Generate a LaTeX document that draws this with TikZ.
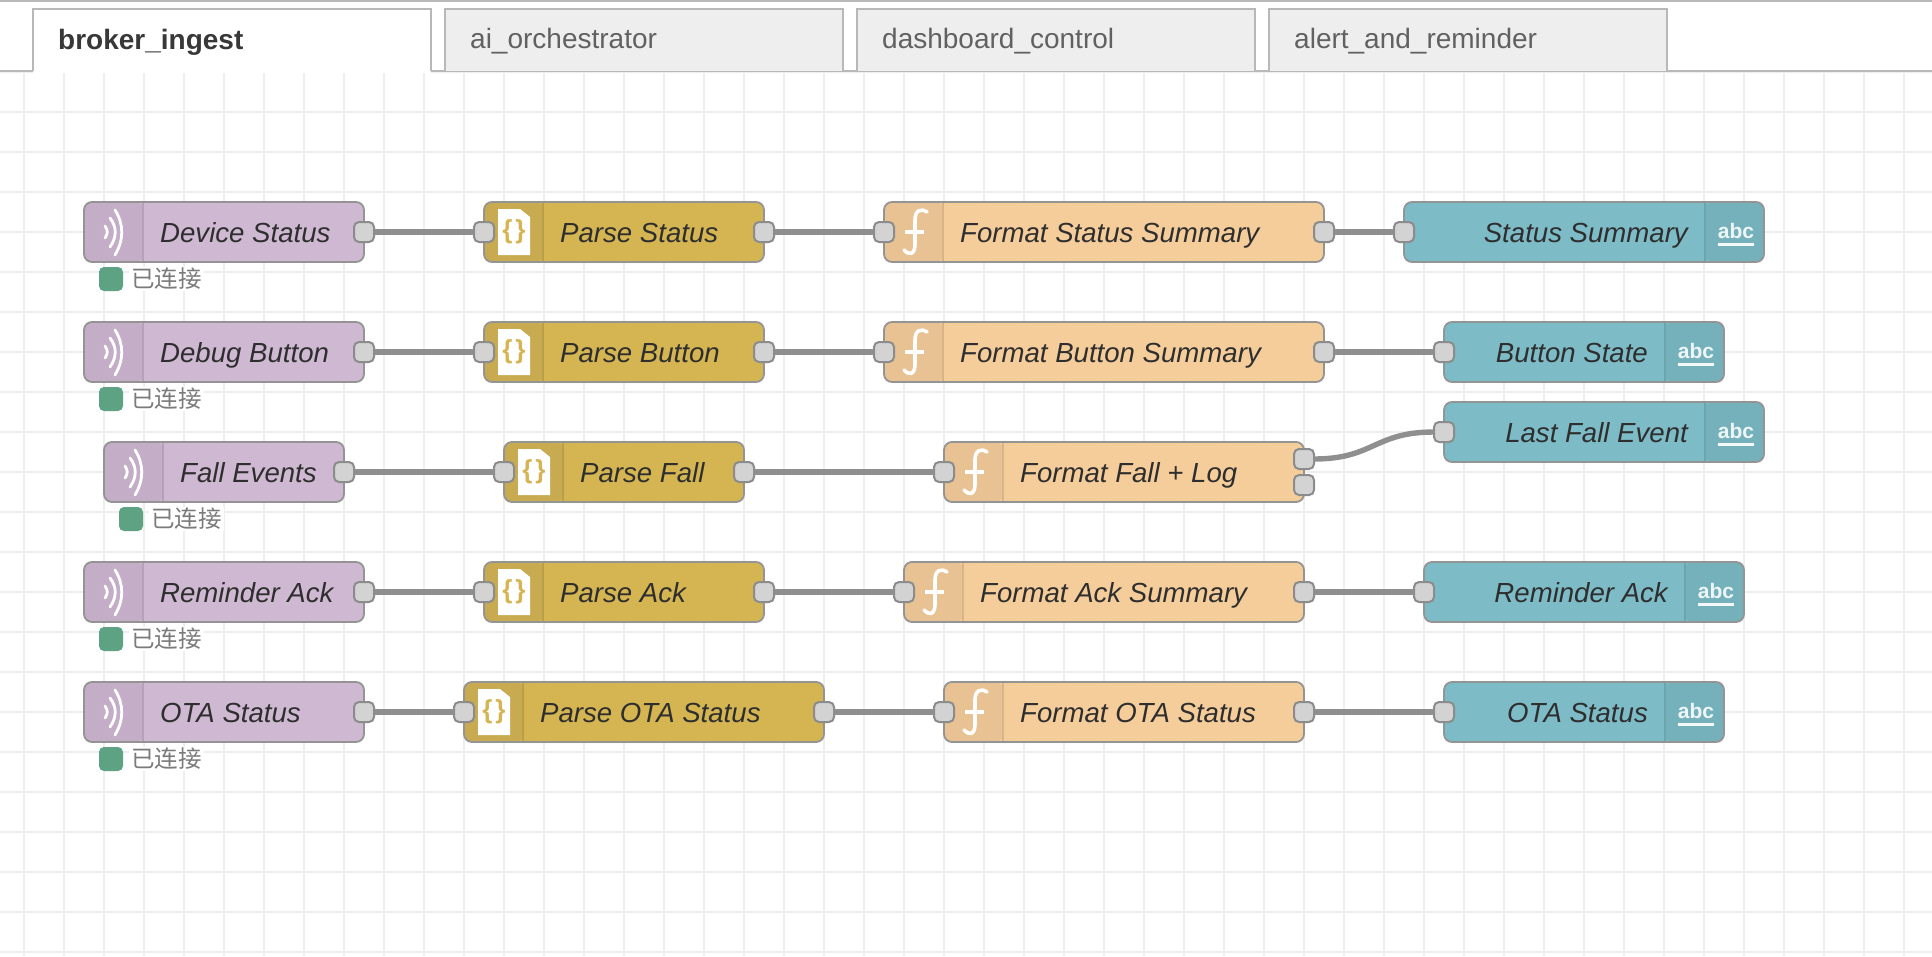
\documentclass[tikz,border=0pt]{standalone}
\usepackage{fontspec}
\setmainfont{Liberation Sans}
\newfontfamily\cjkfont{Noto Sans CJK SC}
\definecolor{gridc}{HTML}{EEEEEE}
\definecolor{tabline}{HTML}{B8B8B8}
\definecolor{tabfill}{HTML}{EEEEEE}
\definecolor{edge}{HTML}{949494}
\definecolor{wirec}{HTML}{8F8F8F}
\definecolor{portfill}{HTML}{D3D3D3}
\definecolor{portedge}{HTML}{8C8C8C}
\definecolor{mq}{HTML}{CFB8D1}
\definecolor{mqd}{HTML}{C4ADC6}
\definecolor{js}{HTML}{D4B552}
\definecolor{jsd}{HTML}{C8AB50}
\definecolor{fn}{HTML}{F5CD9B}
\definecolor{fnd}{HTML}{E8C292}
\definecolor{tx}{HTML}{7DBBC6}
\definecolor{txd}{HTML}{74B1BB}
\definecolor{stgreen}{HTML}{5CA283}
\tikzset{
  x=1pt,y=-1pt,
  nodebody/.style={draw=edge,line width=1.8pt,rounded corners=8pt,minimum height=60pt,inner sep=0pt,outer sep=0pt},
  leftpanel/.style={path picture={
     \fill[#1] (path picture bounding box.north west) rectangle ++(59,60);
     \draw[#1!93!black,line width=1.2pt] ([xshift=59pt]path picture bounding box.north west) -- ++(0,60);}},
  rightpanel/.style={path picture={
     \fill[#1] (path picture bounding box.north east) rectangle ++(-59,60);
     \draw[#1!93!black,line width=1.2pt] ([xshift=-59pt]path picture bounding box.north east) -- ++(0,60);}},
  nodelabel/.style={inner sep=0pt,font=\fontsize{27.6}{30}\selectfont\itshape,text=black!82},
  portbox/.style={draw=portedge,fill=portfill,line width=2pt,rounded corners=5pt,minimum size=20pt,inner sep=0pt,outer sep=0pt},
  wire/.style={draw=wirec,line width=5.4pt},
  tabtext/.style={inner sep=0pt,anchor=base west,font=\fontsize{28}{30}\selectfont,text=black!62},
  activetext/.style={inner sep=0pt,anchor=base west,font=\fontsize{28}{30}\selectfont\bfseries,text=black!78},
  tabedge/.style={draw=tabline,line width=2pt},
  statussq/.style={fill=stgreen,rounded corners=5pt,minimum size=24pt,inner sep=0pt,outer sep=0pt},
  statustext/.style={fill=white,inner xsep=2pt,inner ysep=1pt,anchor=west,font=\cjkfont\fontsize{23.5}{26}\selectfont,text=black!52},
  iconline/.style={draw=white,line width=2.8pt,line cap=round},
  fline/.style={draw=white,line width=3.6pt,line cap=round},
  mqtticon/.pic={
    \draw[iconline] (31,-22) .. controls (40,-8) and (40,8) .. (31,23);
    \draw[iconline] (26,-14) .. controls (33,-5) and (33,5) .. (26,15);
    \draw[iconline] (21,-6) .. controls (24,-2) and (24,2) .. (21,6);
  },
  jsonicon/.pic={
    \fill[white] (14,-23) -- (36,-23) -- (46,-15) -- (46,23) -- (14,23) -- cycle;
    \node[inner sep=0pt,text=js,font=\fontsize{26}{28}\selectfont\bfseries] at (30,0) {\{\kern3pt\}};
  },
  funcicon/.pic={
    \draw[fline] (43,-20) .. controls (37,-24) and (31,-22) .. (31,-12) -- (31,12) .. controls (31,24) and (24,23) .. (20,18);
    \draw[fline,line cap=butt] (21,0) -- (40,0);
  },
  abcicon/.pic={
    \node[inner sep=0pt,anchor=base,text=white,text opacity=.88,font=\fontsize{21}{23}\selectfont\bfseries] at (-28,6) {abc};
    \fill[white,opacity=.92] (-46,11) rectangle (-10,14);
  },
}
\newcommand{\portat}[3]{\node[portbox] (#1) at (#2,#3) {};}
% name, left, right, centre y, label
\newcommand{\mqttnode}[5]{%
  \node[nodebody,fill=mq,leftpanel=mqd,minimum width={(#3-#2)*1pt}] (#1) at ({(#2+#3)/2},#4) {};
  \pic at (#2,#4) {mqtticon};
  \node[nodelabel,anchor=base west] (#1-label) at (#2+76,#4+10) {#5};
  \portat{#1-out}{#3}{#4}
  \node[statussq] (#1-dot) at (#2+27,#4+47) {};
  \node[statustext] (#1-state) at (#2+45,#4+47) {已连接};
}
\newcommand{\jsonnode}[5]{%
  \node[nodebody,fill=js,leftpanel=jsd,minimum width={(#3-#2)*1pt}] (#1) at ({(#2+#3)/2},#4) {};
  \pic at (#2,#4) {jsonicon};
  \node[nodelabel,anchor=base west] (#1-label) at (#2+76,#4+10) {#5};
  \portat{#1-in}{#2}{#4}
  \portat{#1-out}{#3}{#4}
}
\newcommand{\funcbody}[5]{%
  \node[nodebody,fill=fn,leftpanel=fnd,minimum width={(#3-#2)*1pt}] (#1) at ({(#2+#3)/2},#4) {};
  \pic at (#2,#4) {funcicon};
  \node[nodelabel,anchor=base west] (#1-label) at (#2+76,#4+10) {#5};
  \portat{#1-in}{#2}{#4}
}
\newcommand{\textnode}[5]{%
  \node[nodebody,fill=tx,rightpanel=txd,minimum width={(#3-#2)*1pt}] (#1) at ({(#2+#3)/2},#4) {};
  \pic at (#3,#4) {abcicon};
  \node[nodelabel,anchor=base east] (#1-label) at (#3-76,#4+10) {#5};
  \portat{#1-in}{#2}{#4}
}
\begin{document}
\begin{tikzpicture}
\useasboundingbox (0,0) rectangle (1932,956);
\fill[white] (0,0) rectangle (1932,956);
% canvas grid
\foreach \gx in {24,64,...,1924} \draw[gridc,line width=2pt] (\gx,72) -- (\gx,956);
\foreach \gy in {72,112,...,952} \draw[gridc,line width=2pt] (0,\gy) -- (1932,\gy);
% tab bar
\fill[white] (0,2) rectangle (1932,71);
\fill[tabline] (0,0) rectangle (1932,2);
\draw[tabedge] (0,71) -- (1932,71);
\draw[tabedge,fill=tabfill] (445,71) |- (843,9) -- (843,71);
\draw[tabedge,fill=tabfill] (857,71) |- (1255,9) -- (1255,71);
\draw[tabedge,fill=tabfill] (1269,71) |- (1667,9) -- (1667,71);
\fill[white] (33,9) rectangle (431,72.5);
\draw[tabedge] (33,71) -- (33,9) -- (431,9) -- (431,71);
\node[activetext] (tab1) at (58,49) {broker\_ingest};
\node[tabtext] (tab2) at (470,48) {ai\_orchestrator};
\node[tabtext] (tab3) at (882,48) {dashboard\_control};
\node[tabtext] (tab4) at (1294,48) {alert\_and\_reminder};
% row 1
\mqttnode{devstatus}{84}{364}{232}{Device Status}
\jsonnode{parsestatus}{484}{764}{232}{Parse Status}
\funcbody{fmtstatus}{884}{1324}{232}{Format Status Summary}
\portat{fmtstatus-out}{1324}{232}
\textnode{statussum}{1404}{1764}{232}{Status Summary}
% row 2
\mqttnode{debugbtn}{84}{364}{352}{Debug Button}
\jsonnode{parsebtn}{484}{764}{352}{Parse Button}
\funcbody{fmtbtn}{884}{1324}{352}{Format Button Summary}
\portat{fmtbtn-out}{1324}{352}
\textnode{btnstate}{1444}{1724}{352}{Button State}
% row 3
\mqttnode{fallevents}{104}{344}{472}{Fall Events}
\jsonnode{parsefall}{504}{744}{472}{Parse Fall}
\funcbody{fmtfall}{944}{1304}{472}{Format Fall + Log}
\portat{fmtfall-outa}{1304}{459}
\portat{fmtfall-outb}{1304}{485}
\textnode{lastfall}{1444}{1764}{432}{Last Fall Event}
% row 4
\mqttnode{remack}{84}{364}{592}{Reminder Ack}
\jsonnode{parseack}{484}{764}{592}{Parse Ack}
\funcbody{fmtack}{904}{1304}{592}{Format Ack Summary}
\portat{fmtack-out}{1304}{592}
\textnode{remackout}{1424}{1744}{592}{Reminder Ack}
% row 5
\mqttnode{otastatus}{84}{364}{712}{OTA Status}
\jsonnode{parseota}{464}{824}{712}{Parse OTA Status}
\funcbody{fmtota}{944}{1304}{712}{Format OTA Status}
\portat{fmtota-out}{1304}{712}
\textnode{otaout}{1444}{1724}{712}{OTA Status}
% wires
\draw[wire] (devstatus-out) -- (parsestatus-in);
\draw[wire] (parsestatus-out) -- (fmtstatus-in);
\draw[wire] (fmtstatus-out) -- (statussum-in);
\draw[wire] (debugbtn-out) -- (parsebtn-in);
\draw[wire] (parsebtn-out) -- (fmtbtn-in);
\draw[wire] (fmtbtn-out) -- (btnstate-in);
\draw[wire] (fallevents-out) -- (parsefall-in);
\draw[wire] (parsefall-out) -- (fmtfall-in);
\draw[wire] (fmtfall-outa.east) .. controls +(60,0) and +(-60,0) .. (lastfall-in.west);
\draw[wire] (remack-out) -- (parseack-in);
\draw[wire] (parseack-out) -- (fmtack-in);
\draw[wire] (fmtack-out) -- (remackout-in);
\draw[wire] (otastatus-out) -- (parseota-in);
\draw[wire] (parseota-out) -- (fmtota-in);
\draw[wire] (fmtota-out) -- (otaout-in);
\end{tikzpicture}
\end{document}
